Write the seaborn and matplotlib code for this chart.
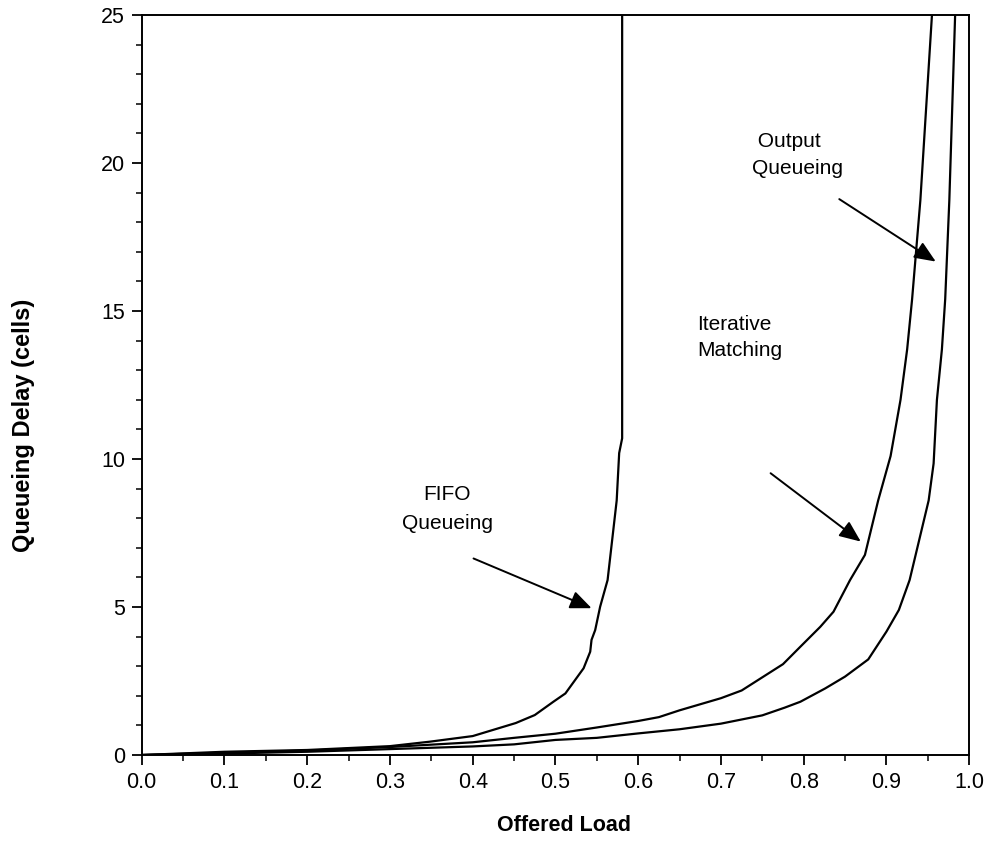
import numpy as np
import pandas as pd
import matplotlib
matplotlib.use("Agg")
import matplotlib.pyplot as plt
from matplotlib.ticker import MultipleLocator, FormatStrFormatter
import seaborn as sns

# values
fifo_load = [0.0, 0.1, 0.2, 0.3, 0.348, 0.4, 0.452, 0.475, 0.4975, 0.512, 0.534,
             0.542, 0.5436, 0.548, 0.554, 0.563, 0.574, 0.577, 0.5806, 0.5806]
fifo_delay = [0.0, 0.11, 0.17, 0.30, 0.45, 0.64, 1.08, 1.35, 1.80, 2.08, 2.93,
              3.49, 3.89, 4.22, 5.01, 5.91, 8.6, 10.2, 10.7, 25.0]

iter_load = [0.0, 0.1, 0.2, 0.3, 0.4, 0.45, 0.5, 0.55, 0.6, 0.625, 0.65, 0.7, 0.725,
             0.775, 0.796, 0.82, 0.836, 0.856, 0.874, 0.89, 0.905, 0.917, 0.925,
             0.931, 0.941, 0.955]
iter_delay = [0.0, 0.08, 0.15, 0.27, 0.43, 0.58, 0.72, 0.93, 1.15, 1.28, 1.51, 1.92,
              2.18, 3.07, 3.66, 4.33, 4.84, 5.91, 6.76, 8.6, 10.1, 12.0, 13.7,
              15.4, 18.75, 25.0]

out_load = [0.0, 0.1, 0.2, 0.3, 0.4, 0.45, 0.5, 0.55, 0.6, 0.65, 0.7, 0.75, 0.777,
            0.796, 0.826, 0.85, 0.878, 0.9, 0.915, 0.928, 0.951, 0.957, 0.961,
            0.967, 0.971, 0.976, 0.983]
out_delay = [0.0, 0.05, 0.11, 0.20, 0.29, 0.36, 0.51, 0.58, 0.73, 0.87, 1.06, 1.34,
             1.60, 1.80, 2.25, 2.65, 3.23, 4.17, 4.90, 5.91, 8.6, 9.85, 12.0,
             13.7, 15.4, 18.75, 25.0]

series_names = ["FIFO Queueing", "Iterative Matching", "Output Queueing"]

df = pd.concat([
    pd.DataFrame({"load": fifo_load, "delay": fifo_delay, "series": series_names[0]}),
    pd.DataFrame({"load": iter_load, "delay": iter_delay, "series": series_names[1]}),
    pd.DataFrame({"load": out_load, "delay": out_delay, "series": series_names[2]}),
], ignore_index=True)

sns.set_style("ticks")
plt.rcParams['font.family'] = ['Liberation Sans', 'DejaVu Sans']
plt.rcParams['text.color'] = 'black'
plt.rcParams['axes.labelcolor'] = 'black'

fig = plt.figure(figsize=(9.91, 8.57), dpi=100)
ax = fig.add_axes([0.143, 0.119, 0.835, 0.8635])

sns.lineplot(data=df, x="load", y="delay", hue="series",
             palette={n: "black" for n in series_names},
             estimator=None, sort=False, legend=False, linewidth=1.6, ax=ax)

ax.set_xlim(0, 1)
ax.set_ylim(0, 25)
ax.xaxis.set_major_locator(MultipleLocator(0.1))
ax.xaxis.set_minor_locator(MultipleLocator(0.05))
ax.xaxis.set_major_formatter(FormatStrFormatter('%.1f'))
ax.yaxis.set_major_locator(MultipleLocator(5))
ax.yaxis.set_minor_locator(MultipleLocator(1))
ax.tick_params(which='major', direction='out', length=7, width=1.3, labelsize=15.5,
               colors='black', pad=5)
ax.tick_params(which='minor', direction='out', length=4, width=1.1, colors='black')
for sp in ax.spines.values():
    sp.set_visible(True)
    sp.set_color('black')
    sp.set_linewidth(1.4)
ax.grid(False)

ax.set_xlabel("Offered Load", fontsize=15.5, fontweight='bold', color='black')
ax.set_ylabel("Queueing Delay (cells)", fontsize=17, fontweight='bold', color='black')
ax.xaxis.set_label_coords(0.51, -0.081)
ax.yaxis.set_label_coords(-0.129, 0.445)

arrow = dict(arrowstyle='-|>,head_length=1.3,head_width=0.55', color='black',
             lw=1.4, shrinkA=0, shrinkB=0)

ax.text(0.369, 8.3, "FIFO\nQueueing", ha='center', va='center', fontsize=15,
        linespacing=1.65, color='black')
ax.annotate("", xy=(0.5437, 4.96), xytext=(0.401, 6.64), arrowprops=arrow)

ax.text(0.671, 14.1, "Iterative\nMatching", ha='left', va='center', fontsize=15,
        linespacing=1.5, color='black')
ax.annotate("", xy=(0.869, 7.21), xytext=(0.76, 9.52), arrowprops=arrow)

ax.text(0.738, 20.27, " Output\nQueueing", ha='left', va='center', fontsize=15,
        linespacing=1.55, color='black')
ax.annotate("", xy=(0.9596, 16.67), xytext=(0.843, 18.78), arrowprops=arrow)

fig.savefig("out.png", dpi=100)
